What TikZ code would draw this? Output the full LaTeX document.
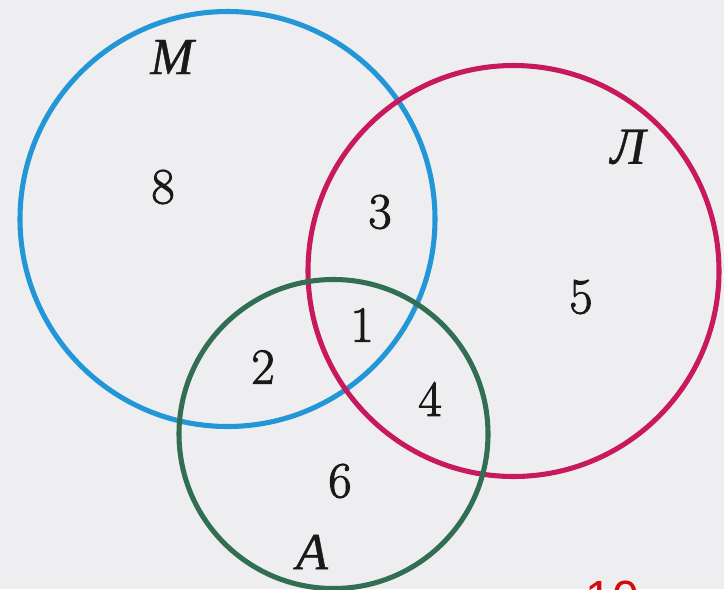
\documentclass[tikz,border=0pt]{standalone}
\usepackage{fontspec}
\newfontfamily\cyrfont[FakeBold=0.8]{Liberation Serif}
\newfontfamily\digitfont[FakeBold=1.8]{Latin Modern Roman}
\newfontfamily\markfont{Liberation Sans}
\definecolor{bgc}{RGB}{238,238,240}
\definecolor{cblue}{RGB}{35,150,215}
\definecolor{cred}{RGB}{200,25,95}
\definecolor{cgreen}{RGB}{50,110,82}
\definecolor{cmark}{RGB}{215,10,10}
\tikzset{
  ring/.style={line width=3.8pt},
  num/.style={font=\digitfont\fontsize{38}{40}\selectfont, text=black!90, inner sep=0pt},
  setlabel/.style={font=\cyrfont\itshape\fontsize{39}{42}\selectfont, text=black!90, inner sep=0pt}
}
\begin{document}
\begin{tikzpicture}[x=0.75pt,y=-0.75pt]
\useasboundingbox (0,0) rectangle (724,589);
\fill[bgc] (0,0) rectangle (724,589);
\begin{scope}
\clip (0,0) rectangle (724,589);
\draw[ring,cblue] (227.5,219) circle[radius=207.5];
\draw[ring,cred] (513.5,271) circle[radius=205.5];
\draw[ring,cgreen] (333.5,434) circle[radius=154.5];
\node[font=\markfont\fontsize{36}{40}\selectfont, text=cmark, inner sep=0pt] (mark) at (612,598) {10};
\end{scope}
\node[setlabel] (M) at (172,57) {М};
\node[setlabel] (L) at (628,147) {Л};
\node[setlabel] (A) at (312,552) {А};
\node[num] (n8) at (163,187) {8};
\node[num] (n3) at (380,212) {3};
\node[num] (n5) at (581,297) {5};
\node[num] (n1) at (362,325) {1};
\node[num] (n2) at (263,367) {2};
\node[num] (n4) at (430,399) {4};
\node[num] (n6) at (340,481) {6};
\end{tikzpicture}
\end{document}
